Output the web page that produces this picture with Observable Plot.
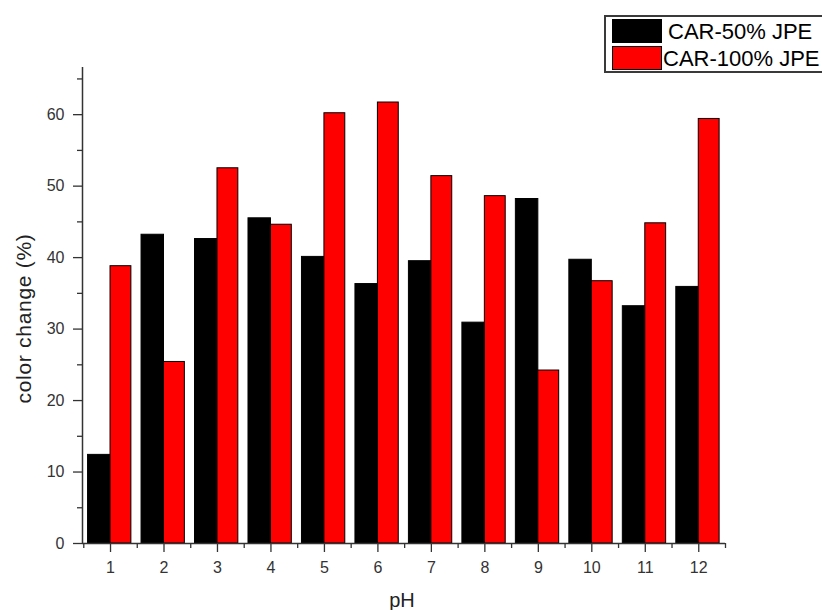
<!DOCTYPE html>
<html>
<head>
<meta charset="utf-8">
<script src="https://cdn.jsdelivr.net/npm/d3@7"></script>
<script src="https://cdn.jsdelivr.net/npm/@observablehq/plot@0.6"></script>
<style>
  html, body { margin: 0; padding: 0; background: #fff; overflow: hidden; }
  #wrap { position: relative; width: 822px; height: 610px; overflow: hidden; }
  #legend { position: absolute; left: 604px; top: 15px; width: 230px; height: 54px;
            border: 2px solid #3a3a3a; background: #fff; font-family: "Liberation Sans", Arial, sans-serif; }
  .lg-row { position: absolute; left: 0; height: 25px; }
  .lg-sw { position: absolute; left: 6px; width: 50px; height: 24px; box-sizing: border-box; border: 1px solid #000; }
  .lg-tx { position: absolute; font-size: 22px; line-height: 22px; color: #000; white-space: nowrap; }
  .ylab text { letter-spacing: 0.7px; }
</style>
</head>
<body>
<div id="wrap"><div id="legend"></div></div>
<script>
// ---- data ----
const pH = [1, 2, 3, 4, 5, 6, 7, 8, 9, 10, 11, 12];
const car50 = [12.4, 43.2, 42.6, 45.5, 40.1, 36.3, 39.5, 30.9, 48.2, 39.7, 33.2, 35.9];
const car100 = [38.8, 25.4, 52.5, 44.6, 60.2, 61.7, 51.4, 48.6, 24.2, 36.7, 44.8, 59.4];
const seriesNames = ["CAR-50% JPE", "CAR-100% JPE"];
const seriesColors = ["#000000", "#ff0000"];
const yTicks = [0, 10, 20, 30, 40, 50, 60];
const xLabel = "pH";
const yLabel = "color change (%)";

// ---- table ----
const rows = [];
pH.forEach((p, i) => {
  rows.push({pH: p, series: seriesNames[0], value: car50[i], x1: p - 0.42, x2: p});
  rows.push({pH: p, series: seriesNames[1], value: car100[i], x1: p, x2: p + 0.39});
});

const xDomain = [0.476, 12.5];
const yDomain = [0, 66.6];
const minorX = d3.range(0.5, 12.51, 1);
const minorY = d3.range(5, 66, 10);
const axisColor = "#333";

const chart = Plot.plot({
  width: 822,
  height: 610,
  marginLeft: 82,
  marginRight: 97,
  marginTop: 67,
  marginBottom: 67,
  style: {fontFamily: "'Liberation Sans', Arial, sans-serif", fontSize: "16px", color: "#333", background: "transparent"},
  x: {type: "linear", domain: xDomain},
  y: {domain: yDomain},
  color: {domain: seriesNames, range: seriesColors},
  marks: [
    Plot.rectY(rows, {x1: "x1", x2: "x2", y1: 0, y2: "value", fill: "series", stroke: "#000", strokeWidth: 1}),
    Plot.axisY({ticks: yTicks, tickSize: 9, tickPadding: 9, label: null, stroke: axisColor, strokeWidth: 1.3}),
    Plot.axisY({ticks: minorY, tickSize: 5, text: null, label: null, stroke: axisColor, strokeWidth: 1.3}),
    Plot.axisX({ticks: pH, tickSize: 9, tickPadding: 9, label: null, tickFormat: d => String(d), stroke: axisColor, strokeWidth: 1.3}),
    Plot.axisX({ticks: minorX, tickSize: 5, text: null, label: null, stroke: axisColor, strokeWidth: 1.3}),
    Plot.ruleX([xDomain[0]], {stroke: axisColor, strokeWidth: 1.5}),
    Plot.ruleY([0], {stroke: axisColor, strokeWidth: 1.5}),
    Plot.text([yLabel], {frameAnchor: "left", dx: -58, dy: 13, rotate: -90, fontSize: 21, fill: "#222", textAnchor: "middle", className: "ylab"}),
    Plot.text([xLabel], {frameAnchor: "bottom", dx: -2, dy: 49.5, lineAnchor: "top", fontSize: 20, fill: "#222", textAnchor: "middle"})
  ]
});
chart.style.position = "absolute";
chart.style.left = "0px";
chart.style.top = "0px";
const wrap = document.getElementById("wrap");
wrap.insertBefore(chart, wrap.firstChild);

// ---- legend (built from series arrays) ----
const legend = document.getElementById("legend");
const textLeft = [62, 57];
seriesNames.forEach((name, i) => {
  const row = document.createElement("div");
  row.className = "lg-row";
  row.style.top = (i === 0 ? 2 : 29) + "px";
  const sw = document.createElement("div");
  sw.className = "lg-sw";
  sw.style.background = seriesColors[i];
  const tx = document.createElement("div");
  tx.className = "lg-tx";
  tx.style.left = textLeft[i] + "px";
  tx.style.top = "2px";
  tx.textContent = name;
  row.appendChild(sw);
  row.appendChild(tx);
  legend.appendChild(row);
});
</script>
</body>
</html>
